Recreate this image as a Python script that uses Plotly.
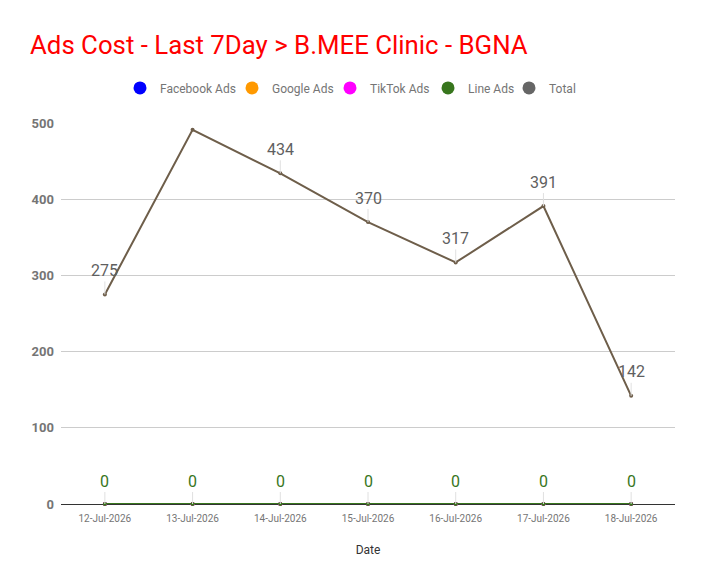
import plotly.graph_objs as go

# data
dates = ['12-Jul-2026', '13-Jul-2026', '14-Jul-2026', '15-Jul-2026',
         '16-Jul-2026', '17-Jul-2026', '18-Jul-2026']
facebook_ads = [0, 0, 0, 0, 0, 0, 0]
google_ads = [0, 0, 0, 0, 0, 0, 0]
tiktok_ads = [0, 0, 0, 0, 0, 0, 0]
line_ads = [0, 0, 0, 0, 0, 0, 0]
total = [275, 491, 434, 370, 317, 391, 142]
total_shown = [True, False, True, True, True, True, True]  # 13-Jul label hidden in the original

series = [
    ('Facebook Ads', facebook_ads, '#0000ff', '#0000ff'),
    ('Google Ads', google_ads, '#ff9900', '#ff9900'),
    ('TikTok Ads', tiktok_ads, '#ff00ff', '#ff00ff'),
    ('Line Ads', line_ads, '#38761d', '#38761d'),
    ('Total', total, '#666666', '#6e5e4a'),
]
# legend circle centres (window px) as in the reference
legend_px = [140, 252, 350, 448, 529]

PLOT_L, PLOT_W = 61, 614

fig = go.Figure()

legends = {}
for i, (name, vals, legend_col, line_col) in enumerate(series):
    fig.add_trace(go.Scatter(x=dates, y=vals, mode='lines+markers', name=name,
                             line=dict(color=line_col, width=2),
                             marker=dict(size=4, color=line_col),
                             showlegend=False, cliponaxis=False))
    # legend only entry, circle marker, each in own legend box to place it
    lg = 'legend' if i == 0 else 'legend%d' % (i + 1)
    fig.add_trace(go.Scatter(x=[None], y=[None], mode='markers', name=name,
                             marker=dict(size=13, color=legend_col), legend=lg))
    legends[lg] = dict(orientation='h', x=(legend_px[i] - 20 - PLOT_L) / PLOT_W,
                       xanchor='left', y=1.092, yanchor='middle',
                       font=dict(family='Roboto', size=12, color='#757575'),
                       itemwidth=30, borderwidth=0, bgcolor='rgba(0,0,0,0)')

annots = []
for d, v, show in zip(dates, total, total_shown):
    if not show:
        continue
    annots.append(dict(x=d, y=v, text=str(v), showarrow=True, ax=0, ay=-24,
                       arrowhead=0, arrowwidth=1, arrowcolor='#e0e0e0',
                       font=dict(family='Roboto', size=16, color='#5f5f5f')))
for d, v in zip(dates, line_ads):
    annots.append(dict(x=d, y=v, text=str(v), showarrow=True, ax=0, ay=-23,
                       arrowhead=0, arrowwidth=1, arrowcolor='#e0e0e0',
                       font=dict(family='Roboto', size=16, color='#38761d')))

# page body adds 8px offset, so everything is pulled up/left by 8px
fig.update_layout(
    width=704, height=585,
    paper_bgcolor='white', plot_bgcolor='white',
    margin=dict(l=53, r=37, t=115, b=89),
    font=dict(family='Roboto', color='#757575'),
    title=dict(text='Ads Cost - Last 7Day > B.MEE Clinic - BGNA',
               x=22 / 704, xanchor='left', xref='container',
               y=1 - 37 / 585, yanchor='middle', yref='container',
               font=dict(family='Roboto', size=25.8, color='#ff0000')),
    annotations=annots,
    xaxis=dict(type='category', range=[-0.5, 6.5], showgrid=False,
               showline=True, linecolor='#333333', linewidth=1, layer='below traces',
               tickfont=dict(family='Roboto', size=10, color='#757575'),
               ticks='', ticklabelstandoff=5,
               title=dict(text='Date', standoff=22,
                          font=dict(family='Roboto', size=12, color='#333333'))),
    yaxis=dict(range=[0, 500], tickvals=[0, 100, 200, 300, 400, 500],
               showgrid=True, gridcolor='#cccccc', zeroline=False, layer='below traces',
               tickfont=dict(family='Roboto', size=13, color='#757575', weight='bold'),
               ticklabelstandoff=6),
)
fig.update_layout(**legends)

fig.write_html("out.html")
